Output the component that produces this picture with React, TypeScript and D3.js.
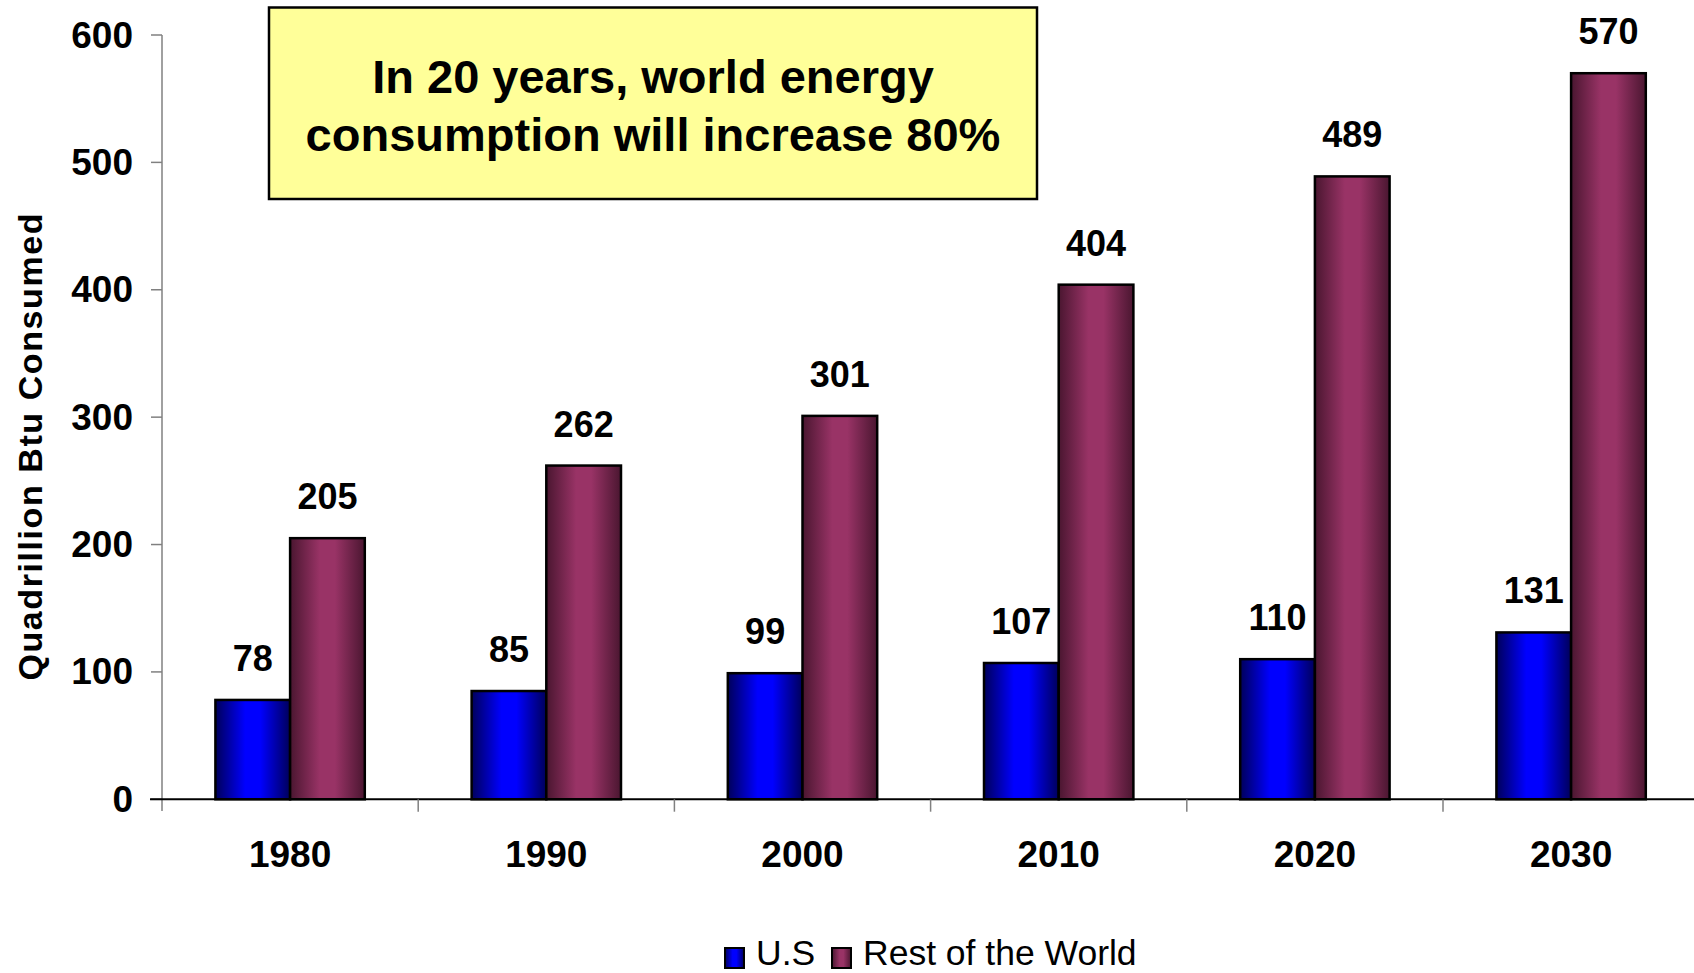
import * as d3 from 'd3';
import React from 'react';

const years = ['1980', '1990', '2000', '2010', '2020', '2030'];
const seriesNames = ['U.S', 'Rest of the World'];
const usValues = [78, 85, 99, 107, 110, 131];
const worldValues = [205, 262, 301, 404, 489, 570];
const yTicks = [0, 100, 200, 300, 400, 500, 600];
const titleLines = ['In 20 years, world energy', 'consumption will increase 80%'];

const width = 1694;
const height = 973;
const font = '"Liberation Sans", Arial, sans-serif';

const gradients = [
	{ id: 'grad-us', edge: '#00005a', mid: '#0000ff' },
	{ id: 'grad-world', edge: '#4a1630', mid: '#993366' },
];

const App = (): React.JSX.Element => {
	const y = d3.scaleLinear().domain([0, 600]).range([799.3, 35]);
	const x = d3.scaleBand<string>().domain(years).range([162, 162 + 6 * 256.2]).padding(0);
	const xInner = d3.scaleBand<string>().domain(seriesNames).range([0, x.bandwidth()]).paddingInner(0).paddingOuter(0.715);

	const series = [usValues, worldValues];

	return (
		<svg width={width} height={height} style={{ position: 'absolute', left: 0, top: 0, background: '#fff' }} fontFamily={font}>
			<defs>
				{gradients.map((g) => (
					<linearGradient key={g.id} id={g.id} x1="0" x2="1" y1="0" y2="0">
						<stop offset="0" stopColor={g.edge} />
						<stop offset="0.4" stopColor={g.mid} />
						<stop offset="0.6" stopColor={g.mid} />
						<stop offset="1" stopColor={g.edge} />
					</linearGradient>
				))}
			</defs>

			{/* y axis */}
			<line x1={162} x2={162} y1={y(600)} y2={811} stroke="#808080" strokeWidth={1.5} />
			{yTicks.map((t) => (
				<g key={t}>
					<line x1={151} x2={162} y1={y(t)} y2={y(t)} stroke="#808080" strokeWidth={1.5} />
					<text x={133} y={y(t) + 12.5} textAnchor="end" fontSize={37} fontWeight="bold">{t}</text>
				</g>
			))}
			<text
				transform={`translate(42, 447) rotate(-90)`}
				textAnchor="middle"
				fontSize={34}
				fontWeight="bold"
				textLength={467}
				lengthAdjust="spacing"
			>
				Quadrillion Btu Consumed
			</text>

			{/* bars */}
			{years.map((yr, i) => (
				<g key={yr} transform={`translate(${x(yr)}, 0)`}>
					{seriesNames.map((s, j) => {
						const v = series[j][i];
						const bx = xInner(s) ?? 0;
						return (
							<g key={s}>
								<rect
									x={bx}
									y={y(v)}
									width={xInner.bandwidth()}
									height={y(0) - y(v)}
									fill={`url(#${gradients[j].id})`}
									stroke="#000"
									strokeWidth={2.5}
								/>
								<text x={bx + xInner.bandwidth() / 2} y={y(v) - 29} textAnchor="middle" fontSize={36} fontWeight="bold">{v}</text>
							</g>
						);
					})}
					<text x={x.bandwidth() / 2} y={867.3} textAnchor="middle" fontSize={37} fontWeight="bold">{yr}</text>
				</g>
			))}

			{/* x axis */}
			<line x1={150} x2={width} y1={y(0)} y2={y(0)} stroke="#000" strokeWidth={2} />
			{years.map((yr) => (
				<line key={yr} x1={(x(yr) ?? 0) + x.bandwidth()} x2={(x(yr) ?? 0) + x.bandwidth()} y1={y(0)} y2={811.7} stroke="#808080" strokeWidth={1.5} />
			))}

			{/* title box */}
			<rect x={269} y={7.5} width={768} height={191.5} fill="#ffff99" stroke="#000" strokeWidth={2.5} />
			{titleLines.map((line, i) => (
				<text key={line} x={653} y={92.5 + i * 58.5} textAnchor="middle" fontSize={47} fontWeight="bold">{line}</text>
			))}

			{/* legend */}
			<g>
				<rect x={725} y={948} width={19} height={20} fill="url(#grad-us)" stroke="#000" strokeWidth={2} />
				<text x={756} y={965} fontSize={35.5}>{seriesNames[0]}</text>
				<rect x={832} y={948} width={19} height={20} fill="url(#grad-world)" stroke="#000" strokeWidth={2} />
				<text x={863} y={965} fontSize={35.5}>{seriesNames[1]}</text>
			</g>
		</svg>
	);
};

export default App;
